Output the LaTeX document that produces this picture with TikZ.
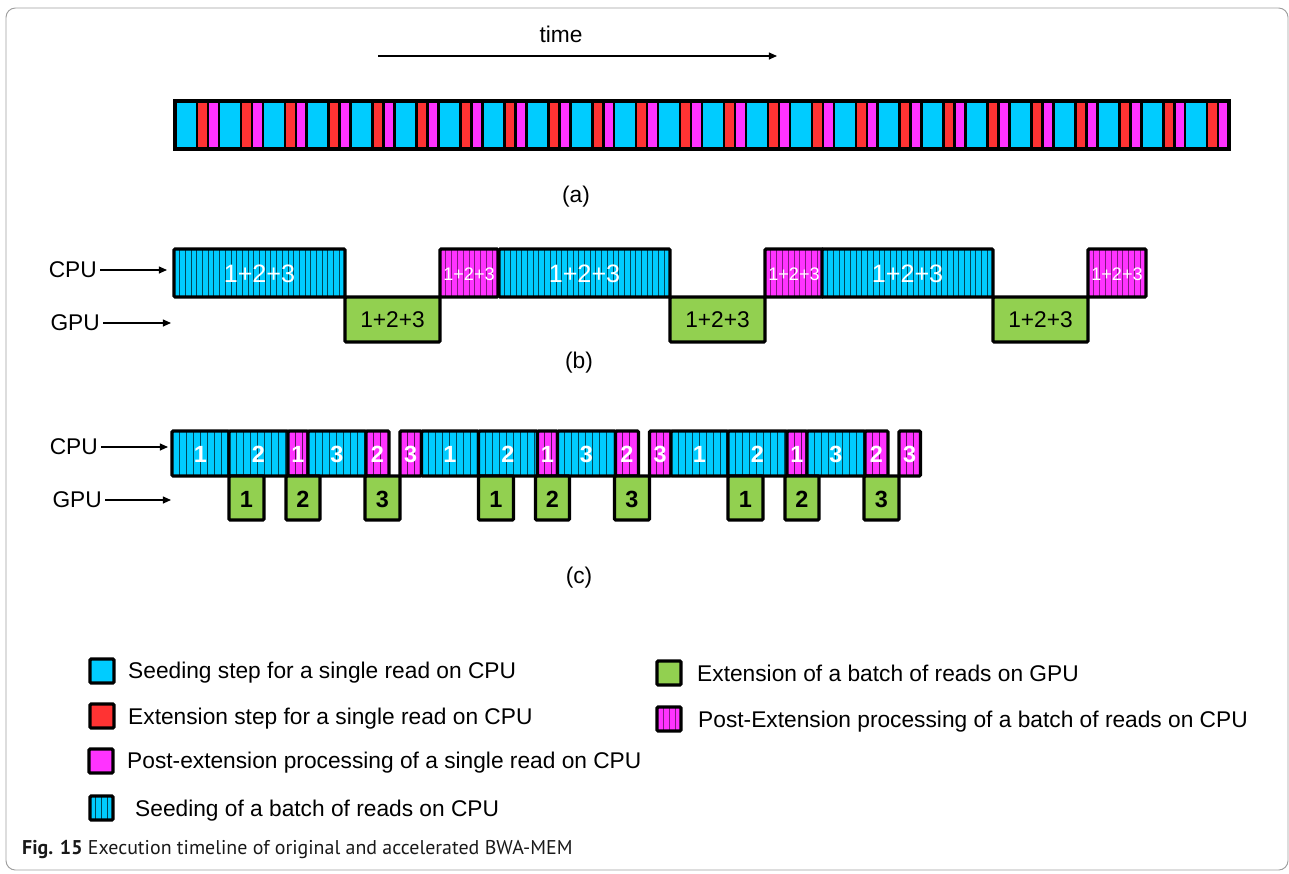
\documentclass[tikz,border=0pt]{standalone}
\usepackage{fontspec}
\setmainfont{Liberation Sans}
\newfontfamily\captionfont{PT Sans}
\usetikzlibrary{arrows.meta}

\begin{document}
\begin{tikzpicture}[x=0.3mm, y=-0.3mm,
		font=\fontsize{19.4}{23}\selectfont,
		box/.style={draw=black, line width=2.8pt, rounded corners=1pt},
		cell/.style={draw=black, line width=2.2pt},
		stripe/.style={line width=0.8pt},
		pointer/.style={line width=1.1pt, -{Triangle[length=7pt, width=6pt]}},
		txt/.style={inner sep=0pt},
		legtext/.style={inner sep=0pt, anchor=base west},
		digit/.style={inner sep=0pt, font=\fontsize{20}{20}\selectfont\bfseries}]
	
	% ==========================================
	% COLOURS, CANVAS & FRAME
	% ==========================================
	\definecolor{seed}{RGB}{0,204,255}
	\definecolor{ext}{RGB}{255,51,51}
	\definecolor{post}{RGB}{255,51,255}
	\definecolor{gpu}{RGB}{146,208,80}
	
	\useasboundingbox (0,0) rectangle (1289,873);
	\draw[gray!75, line width=0.8pt, rounded corners=8pt] (6,8) rectangle (1288,870);
	
	% time arrow
	\node[txt] (time) at (561,34) {time};
	\coordinate (timeA) at (378,56);
	\coordinate (timeB) at (777,56);
	\draw[pointer] (timeA) -- (timeB);
	
	% ==========================================
	% (a) ORIGINAL: ONE READ AT A TIME
	% ==========================================
	\foreach \k in {0,...,23} {
		\pgfmathsetmacro{\xa}{175+43.92*\k}
		\draw[cell, fill=seed] (\xa,101) rectangle (\xa+22,149);
		\draw[cell, fill=ext] (\xa+22,101) rectangle (\xa+33,149);
		\draw[cell, fill=post] (\xa+33,101) rectangle (\xa+43.92,149);
	}
	\draw[line width=3.4pt] (175,101) rectangle (1229,149);
	\node[txt] (labA) at (576,197) {(a)};
	
	% ==========================================
	% (b) ONE BIG BATCH ON THE GPU
	% ==========================================
	\node[txt, anchor=east] (cpuB) at (97,270) {CPU};
	\coordinate (cpuBtip) at (167,270);
	\draw[pointer] (cpuB.east) ++(3,0) -- (cpuBtip);
	\node[txt, anchor=east] (gpuB) at (100,323) {GPU};
	\coordinate (gpuBtip) at (171,323);
	\draw[pointer] (gpuB.east) ++(3,0) -- (gpuBtip);
	
	\foreach \s [count=\p] in {174, 499, 822} {
		% seeding of the batch
		\fill[seed] (\s,249) rectangle (\s+171,297);
		\foreach \k in {1,...,29}
			\draw[stripe, seed!35!black] (\s+\k*5.7,249) -- (\s+\k*5.7,297);
		\draw[box] (\s,249) rectangle (\s+171,297);
		\node[txt, text=white, font=\fontsize{21.5}{21}\selectfont] (bseed\p) at (\s+85.5,274) {1+2+3};
		
		% extension on the GPU
		\draw[box, fill=gpu] (\s+171,297) rectangle (\s+266,342);
		\node[txt] (bgpu\p) at (\s+218.5,320) {1+2+3};
		
		% post-extension of the batch
		\fill[post] (\s+266,249) rectangle (\s+324,297);
		\foreach \k in {1,...,9}
			\draw[stripe, post!50!black] (\s+266+\k*5.8,249) -- (\s+266+\k*5.8,297);
		\draw[box] (\s+266,249) rectangle (\s+324,297);
		\node[txt, text=white, font=\fontsize{15.5}{16}\selectfont] (bpost\p) at (\s+295,274) {1+2+3};
	}
	\node[txt] (labB) at (579,363) {(b)};
	
	% ==========================================
	% (c) THREE SMALL BATCHES, OVERLAPPED
	% ==========================================
	\node[txt, anchor=east] (cpuC) at (98,447) {CPU};
	\coordinate (cpuCtip) at (168,447);
	\draw[pointer] (cpuC.east) ++(3,0) -- (cpuCtip);
	\node[txt, anchor=east] (gpuC) at (102,500) {GPU};
	\coordinate (gpuCtip) at (171,500);
	\draw[pointer] (gpuC.east) ++(3,0) -- (gpuCtip);
	
	\foreach \s [count=\p] in {172, 421.5, 671} {
		% batches on the CPU: seeding (cyan) and post-extension (magenta)
		\foreach \a/\b/\col/\n [count=\q] in {0/57/seed/1, 57/116/seed/2, 116/136/post/1,
				136/194/seed/3, 194/217/post/2, 228/249.5/post/3} {
			\fill[\col] (\s+\a,431) rectangle (\s+\b,476);
			\pgfmathtruncatemacro{\ns}{(\b-\a-3)/7}
			\foreach \k in {1,...,\ns}
				\draw[stripe, \col!35!black] (\s+\a+\k*7,431) -- (\s+\a+\k*7,476);
			\draw[box] (\s+\a,431) rectangle (\s+\b,476);
			\node[digit, text=white] (ccpu\p\q) at (\s+\a/2+\b/2,454) {\n};
		}
		% extension of each batch on the GPU
		\foreach \a/\b/\n in {57/92/1, 114/148/2, 193/228/3} {
			\draw[box, fill=gpu] (\s+\a,476) rectangle (\s+\b,520);
			\node[digit] (cgpu\p\n) at (\s+\a/2+\b/2,499) {\n};
		}
	}
	\node[txt] (labC) at (579,578) {(c)};
	
	% ==========================================
	% LEGEND
	% ==========================================
	\draw[box, fill=seed] (90,659) rectangle (114,683);
	\node[legtext] (legSeed) at (128,678) {Seeding step for a single read on CPU};
	\draw[box, fill=ext] (90,704) rectangle (114,728);
	\node[legtext] (legExt) at (128,724) {Extension step for a single read on CPU};
	\draw[box, fill=post] (89,749) rectangle (113,773);
	\node[legtext] (legPost) at (127,768) {Post-extension processing of a single read on CPU};
	\fill[seed] (90,796) rectangle (113,820);
	\foreach \k in {1,2,3}
		\draw[stripe, seed!35!black] (90+\k*5.8,796) -- (90+\k*5.8,820);
	\draw[box] (90,796) rectangle (113,820);
	\node[legtext] (legSeedB) at (135,816) {Seeding of a batch of reads on CPU};
	
	\draw[box, fill=gpu] (657,661) rectangle (681,685);
	\node[legtext] (legGpu) at (697,681) {Extension of a batch of reads on GPU};
	\fill[post] (657,707) rectangle (681,731);
	\foreach \k in {1,2,3}
		\draw[stripe, post!50!black] (657+\k*6,707) -- (657+\k*6,731);
	\draw[box] (657,707) rectangle (681,731);
	\node[legtext] (legPostB) at (698,727) {Post-Extension processing of a batch of reads on CPU};
	
	% ==========================================
	% CAPTION
	% ==========================================
	\node[txt, anchor=west, text=black!90] (caption) at (22,850)
		{\captionfont\fontsize{17}{18}\selectfont\textbf{Fig. 15} Execution timeline of original and accelerated BWA-MEM};
	
\end{tikzpicture}
\end{document}
